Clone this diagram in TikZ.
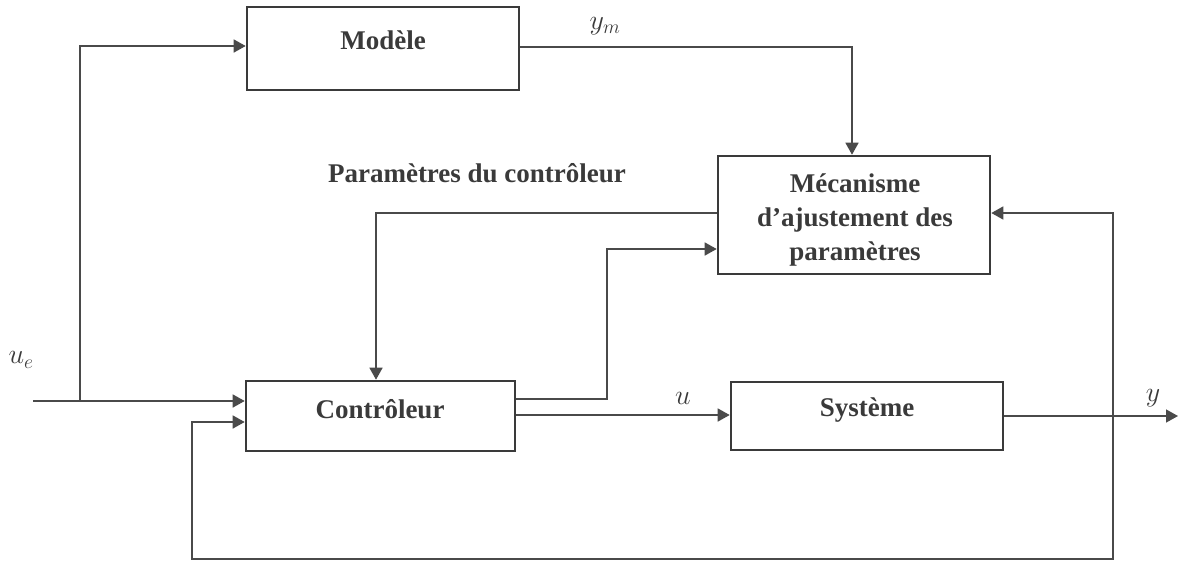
\RequirePackage{fix-cm}
\documentclass[tikz,border=0pt]{standalone}
\usepackage{fontspec}
\setmainfont{Liberation Serif}
\usetikzlibrary{arrows.meta,calc}
\definecolor{ink}{HTML}{3A3A3A}
\definecolor{wire}{HTML}{4A4A4A}
\begin{document}
\begin{tikzpicture}[x=1pt,y=-1pt,
  blk/.style={draw=ink,line width=2.6pt,fill=white,inner sep=0pt},
  txt/.style={text=ink,font=\fontsize{27}{34}\selectfont\bfseries,align=center,inner sep=0pt},
  mlab/.style={text=ink,font=\fontsize{28}{34}\selectfont,inner sep=0pt},
  wireln/.style={draw=wire,line width=1.5pt},
  arr/.style={wireln,-{Triangle[length=12pt,width=13pt]}}
]
\useasboundingbox (0,0) rectangle (1178,563);
% boxes
\node[blk,minimum width=272pt,minimum height=83pt] (mod) at (383,48.5) {};
\node[blk,minimum width=272pt,minimum height=118pt] (mec) at (854,215) {};
\node[blk,minimum width=269pt,minimum height=70pt] (ctl) at (380.5,416) {};
\node[blk,minimum width=272pt,minimum height=68pt] (sys) at (867,416) {};
% box texts
\node[txt] (modt) at (383,40) {Modèle};
\node[txt] (mect) at (855,220) {Mécanisme\\d’ajustement des\\paramètres};
\node[txt] (ctlt) at (380,409) {Contrôleur};
\node[txt] (syst) at (867,410) {Système};
\node[txt] (par) at (477,173) {Paramètres du contrôleur};
% labels
\node[mlab] (ue) at (21,360) {$u_e$};
\node[mlab] (ym) at (605,26) {$y_m$};
\node[mlab] (ul) at (683,398) {$u$};
\node[mlab] (yl) at (1153,398) {$y$};
% coordinates
\coordinate (in) at (33,401);
\coordinate (br) at (80,401);
\coordinate (out) at (1178,416);
\coordinate (fb) at (1113,416);
% connectors
\draw[arr] (in) -- (ctl.west |- in);
\draw[arr] (br) -- (80,46) -- (mod.west |- {(0,46)});
\draw[arr] (mod.east |- {(0,47)}) -- (852,47) -- (mec.north -| {(852,0)});
\draw[arr] (mec.west |- {(0,213)}) -- (376,213) -- (ctl.north -| {(376,0)});
\draw[arr] (ctl.east |- {(0,399)}) -- (607,399) -- (607,249) -- (mec.west |- {(0,249)});
\draw[arr] (ctl.east |- {(0,415)}) -- (sys.west |- {(0,415)});
\draw[arr] (sys.east |- out) -- (out);
\draw[arr] (fb) -- (1113,559) -- (192,559) -- (192,422) -- (ctl.west |- {(0,422)});
\draw[arr] (fb) -- (1113,213) -- (mec.east |- {(0,213)});
\end{tikzpicture}
\end{document}
